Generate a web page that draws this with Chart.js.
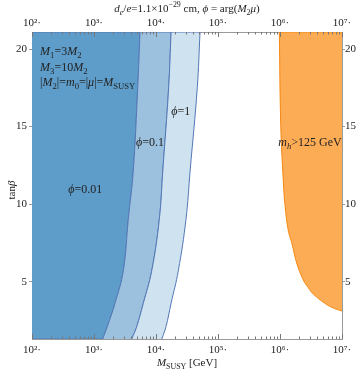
<!DOCTYPE html>
<html>
<head>
<meta charset="utf-8">
<script src="https://cdn.jsdelivr.net/npm/chart.js@4.4.1/dist/chart.umd.min.js"></script>
<style>
  body { margin: 0; background: #fff; }
  #wrap { width: 357px; height: 374px; position: relative; }
</style>
</head>
<body>
<div id="wrap"><canvas id="edmChart"></canvas></div>
<script>
// tan(beta) samples along the EDM exclusion contours
const tanBetaBlue = [1.3, 2.1, 3.6, 5.7, 9, 12.2, 17.5, 21.1];
// M_SUSY [GeV] on each contour
const mPhi001 = [1380, 1640, 2180, 2970, 3570, 4310, 5070, 5520];
const mPhi01 = [4060, 4890, 6240, 8530, 11300, 12900, 16000, 17500];
const mPhi1 = [12400, 14500, 17500, 22900, 30400, 35600, 46300, 51300];
// m_h = 125 GeV contour
const tanBetaHiggs = [3.1, 3.35, 3.6, 4.2, 4.6, 5.1, 6.2, 7.5, 8.3, 10, 11.5, 15, 21.1];
const mHiggs = [1.0e7, 6.8e6, 5.3e6, 3.44e6, 2.87e6, 2.38e6, 1.86e6, 1.55e6, 1.36e6, 1.2e6, 1.13e6, 1.03e6, 9.75e5];

const xTicks = [1e2, 1e3, 1e4, 1e5, 1e6, 1e7];
const xTickLabels = ['10²·', '10³·', '10⁴·', '10⁵·', '10⁶·', '10⁷·'];
const yTicks = [5, 10, 15, 20];
const xMin = 1e2, xMax = 1e7, yMin = 1.3, yMax = 21.1;

const FONT = '"Liberation Serif", "DejaVu Serif", serif';
const frameColor = '#9a9a9a';
const lineBlue = '#5277b5';

function curve(ms, tbs) {
    return ms.map((m, i) => ({ x: m, y: tbs[i] }));
}

// join runs of points; ends of each run are doubled so the spline keeps sharp corners
function polygon(...runs) {
    const out = [];
    runs.forEach(run => {
        out.push(run[0]);
        out.push(...run);
        out.push(run[run.length - 1]);
    });
    return out;
}

const darkBand = polygon([{ x: xMin, y: yMin }], curve(mPhi001, tanBetaBlue), [{ x: xMin, y: yMax }]);
const midBand = polygon(curve(mPhi01, tanBetaBlue), curve(mPhi001, tanBetaBlue).reverse());
const lightBand = polygon(curve(mPhi1, tanBetaBlue), curve(mPhi01, tanBetaBlue).reverse());
const higgsBand = polygon(curve(mHiggs, tanBetaHiggs), [{ x: xMax, y: yMax }]);

// rich text: [text, kind] kind: '' normal, 'i' italic, 'b' sub, 'ib' italic sub, 'p' sup
function drawRich(ctx, parts, x, yc, align, size) {
    const items = parts.map(([t, k]) => {
        const small = k === 'b' || k === 'ib' || k === 'p';
        const italic = k === 'i' || k === 'ib';
        const font = (italic ? 'italic ' : '') + (small ? size * 0.72 : size) + 'px ' + FONT;
        ctx.font = font;
        const dy = (k === 'b' || k === 'ib') ? size * 0.28 : (k === 'p' ? -size * 0.4 : 0);
        return { t, font, dy, w: ctx.measureText(t).width };
    });
    const total = items.reduce((a, it) => a + it.w, 0);
    let cx = align === 'center' ? x - total / 2 : (align === 'right' ? x - total : x);
    const base = yc + size * 0.33;
    ctx.textAlign = 'left';
    ctx.textBaseline = 'alphabetic';
    items.forEach(it => {
        ctx.font = it.font;
        ctx.fillText(it.t, cx, base + it.dy);
        cx += it.w;
    });
}

const annotations = [
    { x: 135, y: 19.9, align: 'left', parts: [['M', 'i'], ['1', 'b'], ['=3', ''], ['M', 'i'], ['2', 'b']] },
    { x: 135, y: 18.87, align: 'left', parts: [['M', 'i'], ['3', 'b'], ['=10', ''], ['M', 'i'], ['2', 'b']] },
    { x: 135, y: 17.9, align: 'left', parts: [['|', ''], ['M', 'i'], ['2', 'b'], ['|=', ''], ['m', 'i'], ['0', 'b'], ['=|', ''], ['μ', 'i'], ['|=', ''], ['M', 'i'], ['SUSY', 'b']] },
    { x: 720, y: 11, align: 'center', parts: [['ϕ', 'i'], ['=0.01', '']] },
    { x: 8000, y: 14.0, align: 'center', parts: [['ϕ', 'i'], ['=0.1', '']] },
    { x: 25000, y: 16.0, align: 'center', parts: [['ϕ', 'i'], ['=1', '']] },
    { x: 3.05e6, y: 14.0, align: 'center', parts: [['m', 'i'], ['h', 'ib'], ['>125 GeV', '']] }
];

const decorPlugin = {
    id: 'decor',
    afterDraw(chart) {
        const ctx = chart.ctx;
        const area = chart.chartArea;
        const xs = chart.scales.x;
        const ys = chart.scales.y;
        ctx.save();
        // inward ticks on bottom and top frame
        ctx.strokeStyle = '#777';
        ctx.lineWidth = 1;
        const marks = [];
        xTicks.forEach(v => marks.push({ v, len: 5 }));
        for (let d = 2; d < 7; d++) {
            for (let k = 2; k <= 9; k++) marks.push({ v: k * Math.pow(10, d), len: 2.5 });
        }
        marks.forEach(m => {
            const px = Math.round(xs.getPixelForValue(m.v)) + 0.5;
            ctx.beginPath();
            ctx.moveTo(px, area.bottom);
            ctx.lineTo(px, area.bottom - m.len);
            ctx.moveTo(px, area.top);
            ctx.lineTo(px, area.top + m.len);
            ctx.stroke();
        });
        ctx.fillStyle = '#222';
        // title
        drawRich(ctx, [['d', 'i'], ['e', 'ib'], ['/', ''], ['e', 'i'], ['=1.1×10', ''], ['−29', 'p'], [' cm, ', ''],
            ['ϕ', 'i'], [' = arg(', ''], ['M', 'i'], ['2', 'b'], ['μ', 'i'], [')', '']],
            (area.left + area.right) / 2, 8, 'center', 11);
        // axis titles
        drawRich(ctx, [['M', 'i'], ['SUSY', 'b'], [' [GeV]', '']], (area.left + area.right) / 2, 362, 'center', 11);
        ctx.save();
        ctx.translate(11, 190);
        ctx.rotate(-Math.PI / 2);
        drawRich(ctx, [['tan', ''], ['β', 'i']], 0, 0, 'center', 11);
        ctx.restore();
        // in-plot labels
        annotations.forEach(a => {
            drawRich(ctx, a.parts, xs.getPixelForValue(a.x), ys.getPixelForValue(a.y), a.align, 12);
        });
        ctx.restore();
    }
};

function band(data, fill, border) {
    return {
        data,
        fill: 'shape',
        backgroundColor: fill,
        borderColor: border,
        borderWidth: 1,
        pointRadius: 0,
        tension: 0.4
    };
}

const xScaleBase = {
    type: 'logarithmic',
    min: xMin,
    max: xMax,
    afterBuildTicks: s => { s.ticks = xTicks.map(v => ({ value: v })); },
    grid: { display: false, drawTicks: false },
    border: { color: frameColor },
    ticks: {
        autoSkip: false,
        maxRotation: 0,
        color: '#222',
        font: { family: FONT, size: 11 },
        callback: v => xTickLabels[xTicks.indexOf(v)] || ''
    }
};

const yScaleBase = {
    type: 'linear',
    min: yMin,
    max: yMax,
    afterBuildTicks: s => { s.ticks = yTicks.map(v => ({ value: v })); },
    grid: { drawOnChartArea: false, tickLength: 3, color: frameColor },
    border: { color: frameColor },
    ticks: { color: '#222', font: { family: FONT, size: 11 } }
};

const ctx = document.getElementById('edmChart').getContext('2d');
new Chart(ctx, {
    type: 'line',
    data: {
        datasets: [
            band(lightBand, '#cfe2ef', lineBlue),
            band(midBand, '#9cc1de', lineBlue),
            band(darkBand, '#5e9dc9', lineBlue),
            band(higgsBand, '#fdac56', '#f5870f')
        ]
    },
    options: {
        responsive: true,
        maintainAspectRatio: false,
        animation: false,
        layout: { padding: 0 },
        plugins: { legend: { display: false }, tooltip: { enabled: false } },
        scales: {
            x: { ...xScaleBase, position: 'bottom', afterFit: s => { s.height = 35; },
                 ticks: { ...xScaleBase.ticks, padding: 5 } },
            x2: { ...xScaleBase, axis: 'x', position: 'top', afterFit: s => { s.height = 32; },
                  ticks: { ...xScaleBase.ticks, padding: 2 } },
            y: { ...yScaleBase, position: 'left', afterFit: s => { s.width = 32; },
                 ticks: { ...yScaleBase.ticks, padding: 2 } },
            y2: { ...yScaleBase, axis: 'y', position: 'right', afterFit: s => { s.width = 15; },
                  ticks: { ...yScaleBase.ticks, padding: 0 } }
        }
    },
    plugins: [decorPlugin]
});
</script>
</body>
</html>
